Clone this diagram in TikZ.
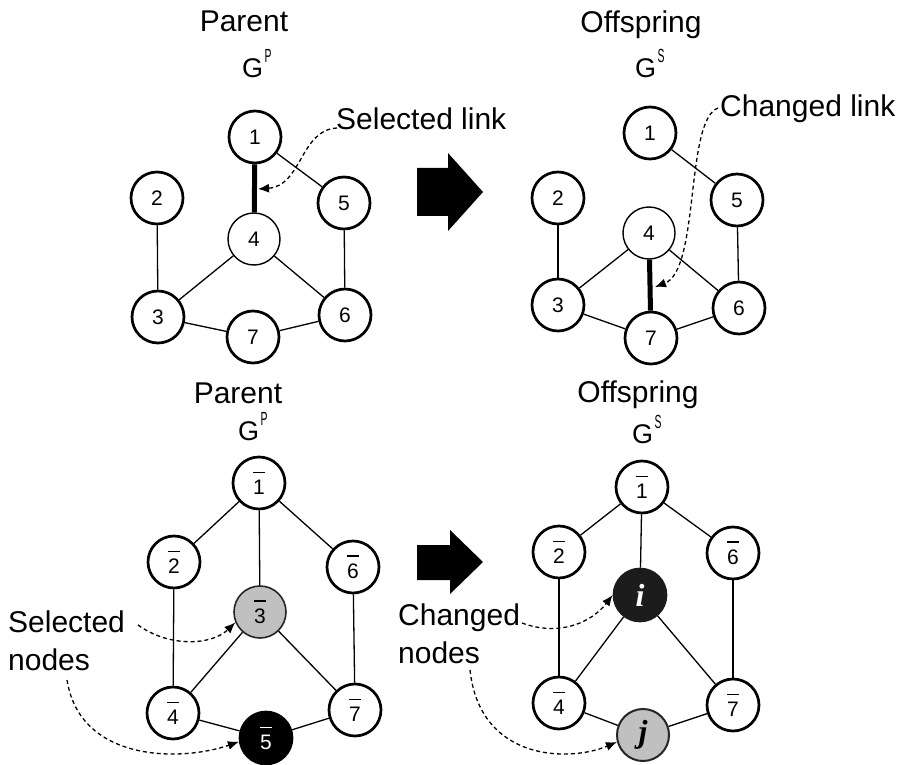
\documentclass[tikz,border=0pt]{standalone}
\usepackage{fontspec}
\usepackage{graphicx}
\setmainfont{Liberation Sans}
\newfontfamily\tnr{Liberation Serif}
\usetikzlibrary{arrows.meta}
\newcommand\barred[1]{\setbox0\hbox{#1}\vbox{\hrule width\wd0 height 1.3pt\kern 7pt\box0}}
\newcommand\supx[1]{\raisebox{15pt}{\fontsize{19}{19}\selectfont\scalebox{0.55}[1]{#1}}}
\definecolor{gray75}{HTML}{C0C0C0}
\definecolor{nearblack}{HTML}{1C1C1C}
\tikzset{
  nd/.style={circle, draw=black, fill=white, line width=2.7pt, minimum size=52pt, inner sep=0pt, font=\fontsize{21}{21}\selectfont},
  thinnd/.style={nd, line width=1.4pt},
  graynd/.style={nd, fill=gray75, draw=black!85, line width=1.6pt},
  blacknd/.style={nd, fill=black, text=white},
  edge/.style={line width=1.3pt},
  boldedge/.style={line width=5pt},
  dsh/.style={line width=1.3pt, dash pattern=on 4pt off 3pt, -{Latex[length=11pt,width=9pt]}},
  lbl/.style={font=\fontsize{30}{30}\selectfont, inner sep=0pt, anchor=base west},
  ttl/.style={font=\fontsize{30}{30}\selectfont, inner sep=0pt, anchor=base},
  gg/.style={font=\fontsize{27}{27}\selectfont, inner sep=0pt, anchor=base west},
  blk/.style={fill=black, draw=none}
}
\begin{document}
\begin{tikzpicture}[x=1pt, y=-1pt]
\useasboundingbox (0,0) rectangle (903,765);
% ---------- top left ----------
\node[ttl] (tP) at (244,32) {Parent};
\node[gg] (tG) at (242,78) {G\hspace{1.5pt}\supx{P}};
\node[nd] (a1) at (255,137) {1};
\node[nd] (a2) at (157,198) {2};
\node[nd] (a5) at (344,203) {5};
\node[thinnd] (a4) at (254,239) {4};
\node[nd] (a3) at (158,317) {3};
\node[nd] (a6) at (345,315) {6};
\node[nd] (a7) at (253,337) {7};
\draw[edge] (a1) -- (a5);
\draw[edge] (a2) -- (a3);
\draw[edge] (a4) -- (a3);
\draw[edge] (a4) -- (a6);
\draw[edge] (a5) -- (a6);
\draw[edge] (a3) -- (a7);
\draw[edge] (a7) -- (a6);
\draw[boldedge] (a1) -- (a4);
\node[lbl] (sl) at (336,130) {Selected link};
\coordinate (slS) at (337,128);
\coordinate (slE) at (258,189);
\draw[dsh] (slS) .. controls (300,130) and (302,186) .. (slE);
% block arrow top
\fill[blk] (417,168) -- (448,168) -- (448,153) -- (483,192) -- (448,231) -- (448,216) -- (417,216) -- cycle;
% ---------- top right ----------
\node[ttl] (tO) at (641,33) {Offspring};
\node[gg] (tGs) at (635,78) {G\hspace{1.5pt}\supx{S}};
\node[nd] (b1) at (650,133) {1};
\node[nd] (b2) at (558,198) {2};
\node[nd] (b5) at (737,200) {5};
\node[thinnd] (b4) at (649,233) {4};
\node[nd] (b3) at (558,305) {3};
\node[nd] (b6) at (739,308) {6};
\node[nd] (b7) at (651,338) {7};
\draw[edge] (b1) -- (b5);
\draw[edge] (b2) -- (b3);
\draw[edge] (b4) -- (b3);
\draw[edge] (b4) -- (b6);
\draw[edge] (b5) -- (b6);
\draw[edge] (b3) -- (b7);
\draw[edge] (b7) -- (b6);
\draw[boldedge] (b4) -- (b7);
\node[lbl] (cl) at (720,117) {Changed link};
\coordinate (clS) at (718,108);
\coordinate (clE) at (655,287);
\draw[dsh] (clS) .. controls (685,120) and (700,270) .. (clE);
% ---------- bottom left ----------
\node[ttl] (bP) at (238,403) {Parent};
\node[gg] (bG) at (238,440) {G\hspace{1.5pt}\supx{P}};
\node[nd] (c1) at (259,483) {\barred{1}};
\node[nd] (c2) at (174,562) {\barred{2}};
\node[nd] (c6) at (353,567) {\barred{6}};
\node[graynd] (c3) at (260,612) {\barred{3}};
\node[nd] (c4) at (173,713) {\barred{4}};
\node[nd] (c7) at (355,710) {\barred{7}};
\node[blacknd] (c5) at (266,738) {\barred{5}};
\draw[edge] (c1) -- (c2);
\draw[edge] (c1) -- (c3);
\draw[edge] (c1) -- (c6);
\draw[edge] (c2) -- (c4);
\draw[edge] (c6) -- (c7);
\draw[edge] (c3) -- (c4);
\draw[edge] (c3) -- (c7);
\draw[edge] (c4) -- (c5);
\draw[edge] (c5) -- (c7);
\node[lbl] (sn1) at (8,632) {Selected};
\node[lbl] (sn2) at (8,670) {nodes};
\coordinate (snA) at (138,625);
\coordinate (snB) at (67,680);
\draw[dsh] (snA) .. controls (170,648) and (212,645) .. (c3.203);
\draw[dsh] (snB) .. controls (80,762) and (180,762) .. (c5.188);
% block arrow bottom
\fill[blk] (417,545) -- (450,545) -- (450,530) -- (483,562) -- (450,594) -- (450,580) -- (417,580) -- cycle;
% ---------- bottom right ----------
\node[ttl] (bO) at (638,402) {Offspring};
\node[gg] (bGs) at (632,443) {G\hspace{1.5pt}\supx{S}};
\node[nd] (d1) at (642,487) {\barred{1}};
\node[nd] (d2) at (559,552) {\barred{2}};
\node[nd] (d6) at (733,553) {\barred{6}};
\node[nd, fill=nearblack, draw=nearblack, text=white, font=\fontsize{32}{32}\selectfont\tnr\bfseries\itshape] (di) at (640,595) {i};
\node[nd] (d4) at (559,703) {\barred{4}};
\node[nd] (d7) at (733,705) {\barred{7}};
\node[graynd, line width=2pt, font=\fontsize{32}{32}\selectfont\tnr\bfseries\itshape] (dj) at (643,735) {j};
\draw[edge] (d1) -- (d2);
\draw[edge] (d1) -- (di);
\draw[edge] (d1) -- (d6);
\draw[edge] (d2) -- (d4);
\draw[edge] (d6) -- (d7);
\draw[edge] (di) -- (d4);
\draw[edge] (di) -- (d7);
\draw[edge] (d4) -- (dj);
\draw[edge] (dj) -- (d7);
\node[lbl] (cn1) at (398,625) {Changed};
\node[lbl] (cn2) at (398,663) {nodes};
\coordinate (cnA) at (522,623);
\coordinate (cnB) at (470,670);
\draw[dsh] (cnA) .. controls (560,637) and (592,622) .. (di.180);
\draw[dsh] (cnB) .. controls (480,762) and (570,762) .. (dj.195);
\end{tikzpicture}
\end{document}
